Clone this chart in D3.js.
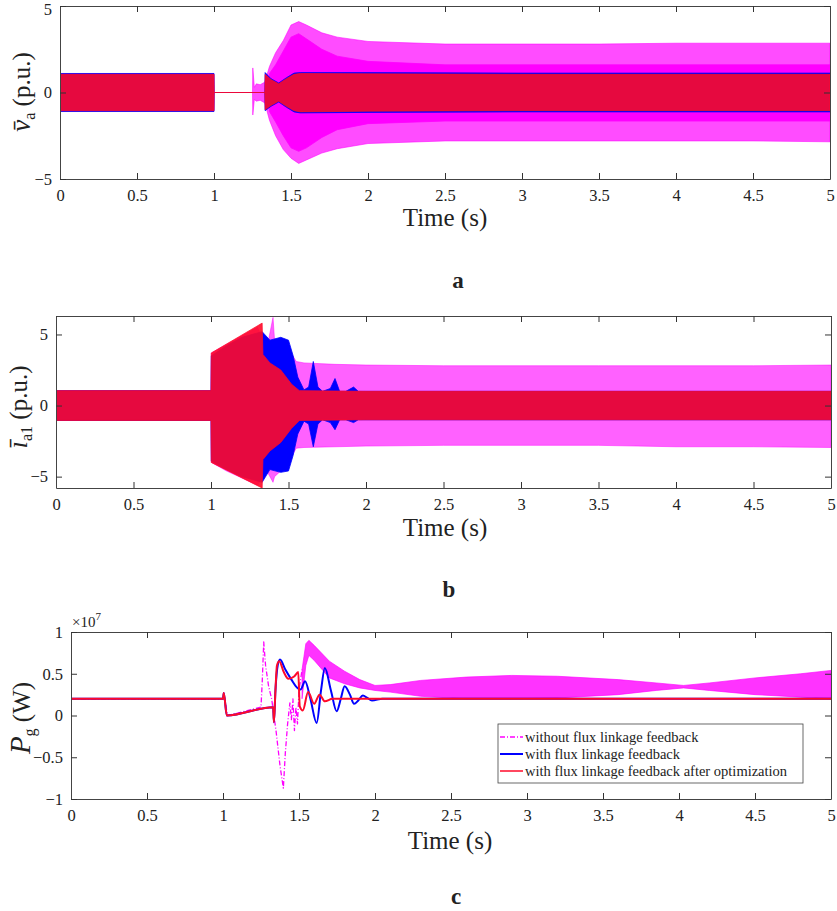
<!DOCTYPE html>
<html><head><meta charset="utf-8">
<script src="https://cdn.jsdelivr.net/npm/d3@7"></script>
<style>
body{margin:0;background:#fff}
svg text{font-family:"Liberation Serif","Times New Roman",Times,serif !important;fill:#222}
</style>
</head><body>
<svg id="chart" width="837" height="911"></svg>
<script>
// ---------- Panel a : voltage envelopes (p.u.) ----------
const aMagT  = [0, 1.0, 1.001, 1.25, 1.252, 1.262, 1.275, 1.3, 1.33, 1.36, 1.4, 1.45, 1.5, 1.55, 1.6, 1.7, 1.8, 2.0, 2.5, 3.0, 3.5, 4.0, 4.5, 5.0];
const aMagHi = [1.07, 1.07, 0, 0, 1.42, 0.3, 0.5, 0.45, 0.6, 1.5, 2.3, 3.0, 3.9, 4.1, 3.9, 3.45, 3.2, 2.95, 2.8, 2.8, 2.8, 2.85, 2.85, 2.85];
const aMagLo = [-1.07, -1.07, 0, 0, -1.3, -0.4, -0.5, -0.45, -0.6, -1.6, -2.5, -3.3, -3.8, -4.1, -3.9, -3.5, -3.25, -2.95, -2.8, -2.8, -2.8, -2.8, -2.8, -2.85];
const aMagInT  = [1.36, 1.4, 1.45, 1.5, 1.55, 1.6, 1.7, 1.8, 2.0, 2.5, 3.0, 4.0, 5.0];
const aMagInHi = [1.1, 1.6, 2.4, 3.2, 3.4, 3.1, 2.5, 2.1, 1.8, 1.6, 1.6, 1.6, 1.6];
const aMagInLo = [-1.1, -1.7, -2.5, -3.2, -3.4, -3.2, -2.6, -2.15, -1.8, -1.65, -1.65, -1.65, -1.65];
const aBluT  = [0, 1.0, 1.001, 1.33, 1.332, 1.37, 1.42, 1.47, 1.52, 1.56, 2.0, 3.0, 4.0, 5.0];
const aBluHi = [1.1, 1.1, 0, 0, 1.15, 0.8, 0.55, 0.85, 1.12, 1.15, 1.15, 1.12, 1.12, 1.12];
const aBluLo = [-1.1, -1.1, 0, 0, -1.05, -0.8, -0.55, -0.85, -1.12, -1.18, -1.15, -1.12, -1.12, -1.12];
const aRedT  = [0, 1.0, 1.001, 1.33, 1.332, 1.37, 1.42, 1.47, 1.52, 1.56, 2.0, 3.0, 4.0, 5.0];
const aRedHi = [1.05, 1.05, 0, 0, 1.05, 0.75, 0.5, 0.8, 1.05, 1.1, 1.08, 1.05, 1.05, 1.05];
const aRedLo = [-1.05, -1.05, 0, 0, -1.0, -0.75, -0.5, -0.8, -1.05, -1.12, -1.08, -1.05, -1.05, -1.05];

// ---------- Panel b : current envelopes (p.u.) ----------
const bMagT  = [0, 1.0, 1.002, 1.1, 1.2, 1.3, 1.36, 1.40, 1.41, 1.45, 1.5, 1.55, 1.6, 1.8, 2.0, 2.5, 3.0, 3.5, 4.0, 4.5, 5.0];
const bMagHi = [1.05, 1.05, 3.7, 4.3, 4.9, 5.5, 4.0, 6.2, 4.6, 4.6, 4.0, 3.1, 3.0, 2.9, 2.85, 2.8, 2.8, 2.8, 2.8, 2.8, 2.85];
const bMagLo = [-1.05, -1.05, -4.0, -4.6, -5.1, -5.6, -4.6, -5.4, -5.0, -4.6, -4.0, -3.0, -2.95, -2.9, -2.85, -2.8, -2.8, -2.8, -2.9, -2.9, -2.95];
const bBluT  = [0, 1.0, 1.002, 1.1, 1.2, 1.33, 1.38, 1.45, 1.5, 1.53, 1.56, 1.6, 1.63, 1.66, 1.69, 1.72, 1.77, 1.8, 1.83, 1.87, 1.92, 1.95, 2.0, 5.0];
const bBluHi = [1.05, 1.05, 3.5, 4.2, 4.8, 5.2, 4.6, 4.8, 4.6, 3.5, 2.0, 1.1, 1.3, 3.1, 1.3, 1.0, 1.2, 1.9, 1.0, 1.0, 1.3, 1.0, 1.0, 1.0];
const bBluLo = [-1.05, -1.05, -3.9, -4.5, -5.0, -5.4, -4.5, -4.7, -4.6, -3.5, -2.0, -1.1, -1.3, -2.9, -1.3, -1.0, -1.2, -1.7, -1.0, -1.0, -1.2, -1.0, -1.0, -1.0];
const bRedT  = [0, 1.0, 1.002, 1.33, 1.335, 1.38, 1.45, 1.52, 1.57, 2.0, 5.0];
const bRedHi = [1.05, 1.05, 3.7, 5.8, 3.6, 3.0, 2.5, 1.5, 1.05, 1.0, 1.0];
const bRedLo = [-1.05, -1.05, -4.0, -5.8, -3.8, -3.2, -2.6, -1.6, -1.05, -1.0, -1.0];

// ---------- Panel c : power (x1e7 W) ----------
const cMagLineT = [0, 1.0, 1.005, 1.03, 1.25, 1.258, 1.268, 1.28, 1.30, 1.32, 1.35, 1.375, 1.397, 1.41, 1.425, 1.44, 1.45, 1.46, 1.47, 1.48, 1.49, 1.50, 1.52];
const cMagLineP = [0.2, 0.2, 0.27, 0.0, 0.1, 0.4, 0.88, 0.6, 0.35, 0.2, -0.2, -0.6, -0.87, -0.45, -0.1, 0.15, -0.05, 0.2, -0.18, 0.1, -0.1, 0.3, 0.55];
const cMagBandT  = [1.52, 1.545, 1.565, 1.6, 1.7, 1.8, 1.9, 2.0, 2.1, 2.3, 2.6, 2.9, 3.2, 3.6, 3.85, 4.03, 4.2, 4.5, 4.8, 5.0];
const cMagBandHi = [0.55, 0.86, 0.9, 0.84, 0.65, 0.53, 0.43, 0.36, 0.37, 0.42, 0.46, 0.48, 0.47, 0.43, 0.39, 0.36, 0.39, 0.45, 0.5, 0.54];
const cMagBandLo = [0.2, 0.6, 0.72, 0.66, 0.45, 0.38, 0.33, 0.3, 0.28, 0.23, 0.2, 0.2, 0.21, 0.25, 0.3, 0.33, 0.3, 0.25, 0.22, 0.2];
const cBluT = [0, 1.0, 1.005, 1.025, 1.33, 1.335, 1.345, 1.36, 1.375, 1.41, 1.45, 1.49, 1.51, 1.54, 1.575, 1.616, 1.645, 1.67, 1.71, 1.748, 1.775, 1.80, 1.835, 1.862, 1.89, 1.92, 1.95, 1.98, 2.05, 5.0];
const cBluP = [0.2, 0.2, 0.27, 0.0, 0.1, -0.08, 0.3, 0.6, 0.67, 0.55, 0.43, 0.33, 0.31, 0.41, 0.2, -0.09, 0.3, 0.57, 0.3, 0.05, 0.2, 0.35, 0.25, 0.14, 0.18, 0.24, 0.21, 0.18, 0.2, 0.2];
const cRedT = [0, 1.0, 1.005, 1.025, 1.33, 1.335, 1.345, 1.355, 1.37, 1.40, 1.43, 1.47, 1.495, 1.505, 1.525, 1.56, 1.60, 1.635, 1.67, 1.72, 5.0];
const cRedP = [0.2, 0.2, 0.27, 0.0, 0.1, -0.08, 0.3, 0.6, 0.65, 0.52, 0.44, 0.47, 0.52, 0.11, 0.06, 0.28, 0.14, 0.25, 0.17, 0.2, 0.2];

const xTicks = [0, 0.5, 1, 1.5, 2, 2.5, 3, 3.5, 4, 4.5, 5];
const abYTicks = [-5, 0, 5];
const cYTicks = [-1, -0.5, 0, 0.5, 1];
const legendLabels = ["without flux linkage feedback", "with flux linkage feedback", "with flux linkage feedback after optimization"];

const MAG = "#ff00ff", BLU = "#0000ff", RED = "#ff0a2a";
const SERIF = '"Liberation Serif", "Times New Roman", Times, serif';
const svg = d3.select("#chart");

function frame(id, x, y, yTicks, yFmt) {
  const g = svg.append("g");
  const [x0, x1] = x.range(), [y0, y1] = y.range();
  svg.append("clipPath").attr("id", id).append("rect")
    .attr("x", x0).attr("y", y1).attr("width", x1 - x0).attr("height", y0 - y1);
  const plot = g.append("g").attr("clip-path", `url(#${id})`);
  return {g, plot, draw() {
    const ax = g.append("g");
    ax.append("g").attr("transform", `translate(0,${y0})`)
      .call(d3.axisBottom(x).tickValues(xTicks).tickSizeInner(-6).tickSizeOuter(0).tickPadding(10).tickFormat(d3.format("")));
    ax.append("g").attr("transform", `translate(0,${y1})`)
      .call(d3.axisTop(x).tickValues(xTicks).tickSizeInner(-6).tickSizeOuter(0).tickFormat(""));
    const yl = ax.append("g").attr("transform", `translate(${x0},0)`)
      .call(d3.axisLeft(y).tickValues(yTicks).tickSizeInner(-6).tickSizeOuter(0).tickPadding(8).tickFormat(yFmt));
    ax.append("g").attr("transform", `translate(${x1},0)`)
      .call(d3.axisRight(y).tickValues(yTicks).tickSizeInner(-6).tickSizeOuter(0).tickFormat(""));
    ax.selectAll("g").attr("font-family", SERIF);
    ax.selectAll(".domain").attr("stroke", "#444").attr("stroke-width", 1);
    ax.selectAll(".tick line").attr("stroke", "#333");
    ax.selectAll(".tick text").attr("font-size", 16.5).attr("fill", "#222");
    // keep a tick label that would sit on the page's top edge inside the page
    yl.selectAll(".tick").filter(function () {
      const m = /translate\([^,]+,([^)]+)\)/.exec(this.getAttribute("transform"));
      return m && +m[1] < 9;
    }).select("text").attr("dy", "0.5em");
  }};
}

function band(plot, x, y, T, hi, lo, color, op, sw) {
  const d = T.map((t, i) => ({t, h: hi[i], l: lo[i]}));
  plot.append("path").datum(d)
    .attr("d", d3.area().x(p => x(p.t)).y0(p => y(p.l)).y1(p => y(p.h)))
    .attr("fill", color).attr("fill-opacity", op)
    .attr("stroke", color).attr("stroke-opacity", op).attr("stroke-width", sw || 0.8);
}
function line(plot, x, y, T, P, color, w, dash, curve) {
  const d = T.map((t, i) => ({t, p: P[i]}));
  plot.append("path").datum(d)
    .attr("d", d3.line().x(p => x(p.t)).y(p => y(p.p)).curve(curve || d3.curveLinear))
    .attr("fill", "none").attr("stroke", color).attr("stroke-width", w)
    .attr("stroke-dasharray", dash || null).attr("stroke-linejoin", "round");
}
function xTitle(cx, yb) {
  svg.append("text").attr("x", cx).attr("y", yb).attr("text-anchor", "middle")
    .attr("font-size", 25).text("Time (s)");
}
function letter(cx, yb, s) {
  svg.append("text").attr("x", cx).attr("y", yb).attr("text-anchor", "middle")
    .attr("font-size", 23).attr("font-weight", "bold").text(s);
}
function yTitle(cx, cy, main, sub, rest, mainSize) {
  const t = svg.append("text").attr("transform", `translate(${cx},${cy}) rotate(-90)`)
    .attr("text-anchor", "middle").attr("font-size", 25);
  t.append("tspan").attr("font-style", "italic").attr("font-size", mainSize || 25).text(main);
  t.append("tspan").attr("font-size", 16).attr("dy", 5).text(sub);
  t.append("tspan").attr("dy", -5).text(rest);
}

// ---- Panel a
{
  const x = d3.scaleLinear().domain([0, 5]).range([60, 830]);
  const y = d3.scaleLinear().domain([-5, 5]).range([179, 6]);
  const f = frame("clipA", x, y, abYTicks, d3.format(""));
  band(f.plot, x, y, aMagT, aMagHi, aMagLo, MAG, 0.7);
  band(f.plot, x, y, aMagInT, aMagInHi, aMagInLo, MAG, 1);
  band(f.plot, x, y, aBluT, aBluHi, aBluLo, BLU, 1);
  band(f.plot, x, y, aRedT, aRedHi, aRedLo, RED, 0.9);
  f.draw();
  yTitle(30, 92, "v\u0304", "a", " (p.u.)", 27);
  xTitle(445, 226);
  letter(458, 288, "a");
}
// ---- Panel b
{
  const x = d3.scaleLinear().domain([0, 5]).range([56, 831]);
  const y = d3.scaleLinear().domain([-5.8, 6.3]).range([488, 316]);
  const f = frame("clipB", x, y, abYTicks, d3.format(""));
  band(f.plot, x, y, bMagT, bMagHi, bMagLo, MAG, 0.62);
  band(f.plot, x, y, bBluT, bBluHi, bBluLo, BLU, 1);
  band(f.plot, x, y, bRedT, bRedHi, bRedLo, RED, 0.9);
  f.draw();
  yTitle(27, 407, "i\u0304", "a1", " (p.u.)", 27);
  xTitle(445, 536);
  letter(449, 597, "b");
}
// ---- Panel c
{
  const x = d3.scaleLinear().domain([0, 5]).range([71, 831]);
  const y = d3.scaleLinear().domain([-1, 1]).range([799, 632]);
  const f = frame("clipC", x, y, cYTicks, d3.format(""));
  line(f.plot, x, y, cMagLineT, cMagLineP, MAG, 1.3, "5,2,1,2");
  band(f.plot, x, y, cMagBandT, cMagBandHi, cMagBandLo, MAG, 0.8, 0.8);
  line(f.plot, x, y, cBluT, cBluP, BLU, 2, null, d3.curveMonotoneX);
  line(f.plot, x, y, cRedT, cRedP, RED, 2, null, d3.curveMonotoneX);
  f.draw();
  const e = svg.append("text").attr("x", 72).attr("y", 627).attr("font-size", 15);
  e.append("tspan").text("\u00d710");
  e.append("tspan").attr("font-size", 11).attr("dy", -7).text("7");
  yTitle(30, 718, "P", "g", " (W)", 29);
  xTitle(450, 849);
  letter(456, 904, "c");
  const lg = svg.append("g").attr("transform", "translate(498,724)");
  lg.append("rect").attr("width", 305).attr("height", 59).attr("fill", "#fff").attr("stroke", "#444").attr("stroke-width", 0.8);
  const styles = [[MAG, 1.3, "5,2,1,2"], [BLU, 2, null], [RED, 1.5, null]];
  legendLabels.forEach((s, i) => {
    const yy = 13 + i * 17;
    lg.append("line").attr("x1", 2).attr("x2", 25).attr("y1", yy).attr("y2", yy)
      .attr("stroke", styles[i][0]).attr("stroke-width", styles[i][1]).attr("stroke-dasharray", styles[i][2]);
    lg.append("text").attr("x", 27).attr("y", yy + 5).attr("font-size", 14.5).text(s);
  });
}
</script>
</body></html>
